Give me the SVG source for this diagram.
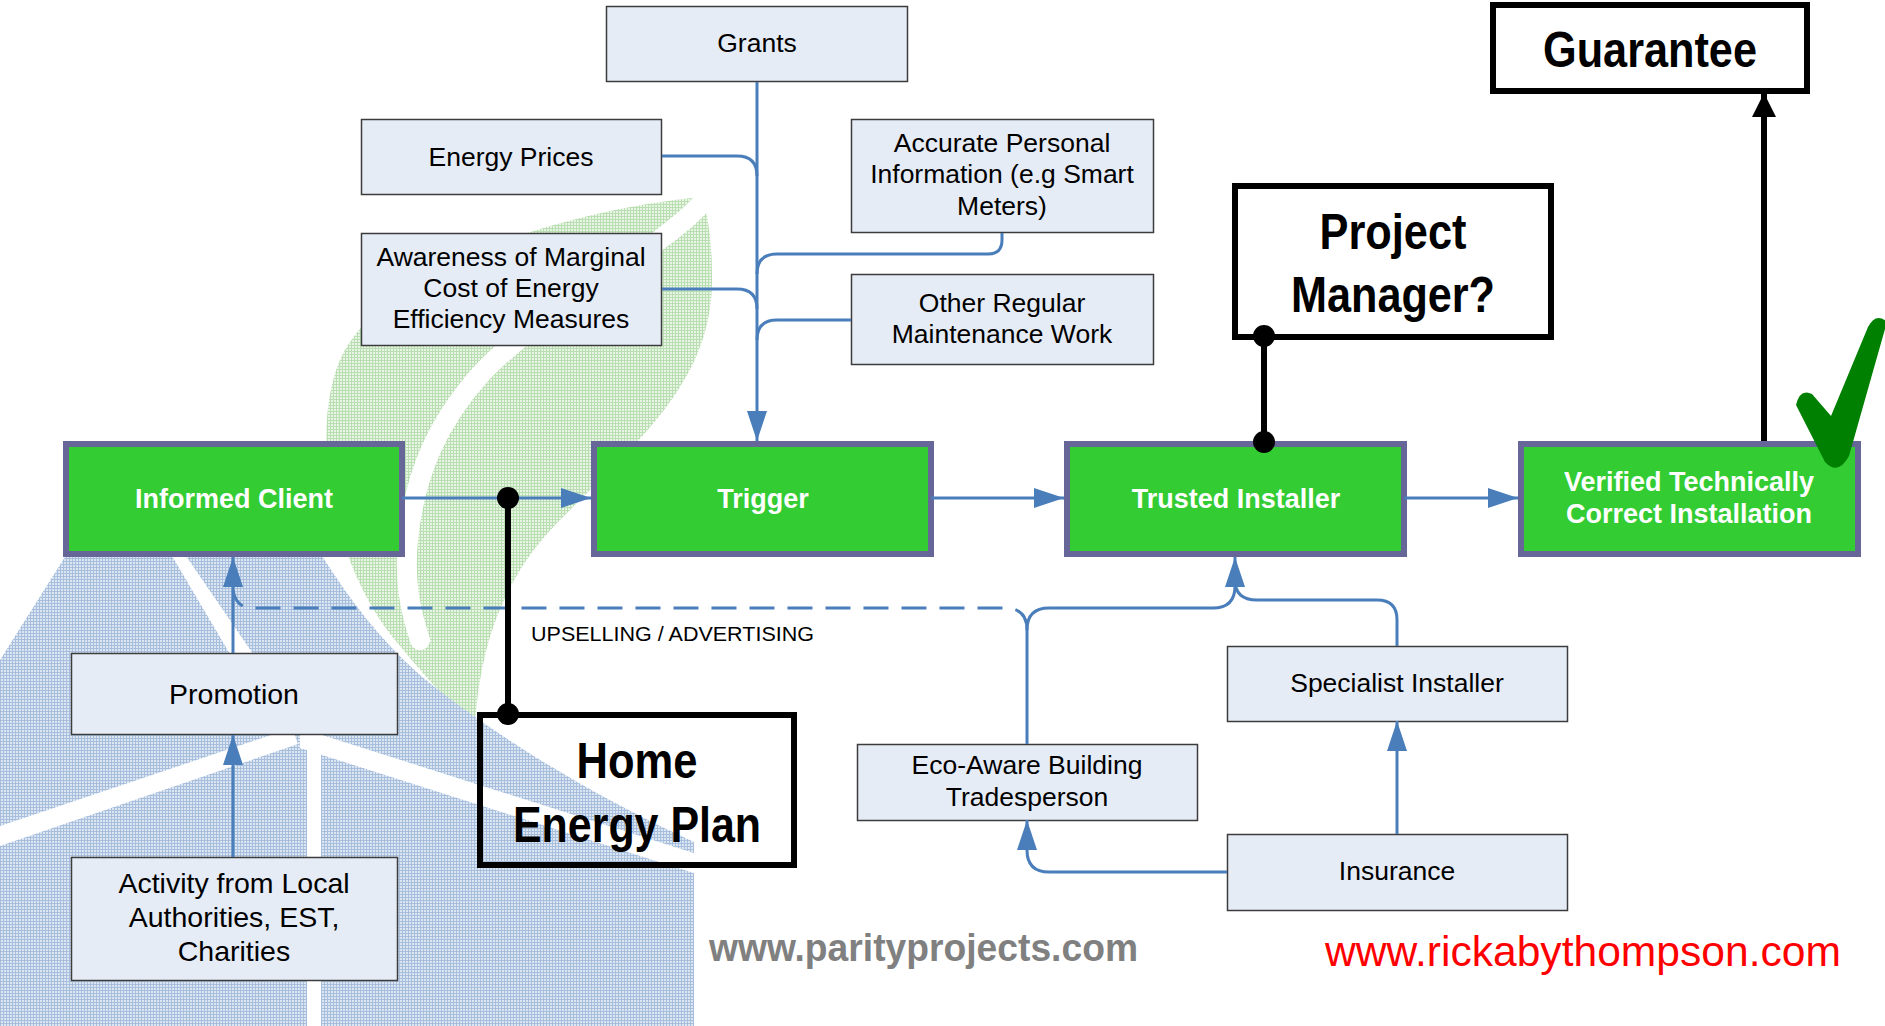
<svg xmlns="http://www.w3.org/2000/svg" width="1885" height="1026" viewBox="0 0 1885 1026">
  <style>
    .box { fill: #e6ecf6; stroke: #3c3c3c; stroke-width: 1.5; }
    .stage { fill: #33cc33; stroke: #666699; stroke-width: 6; }
    .note { fill: none; stroke: #000; stroke-width: 6; }
    .txt { font-family: "Liberation Sans", Arial, sans-serif; font-size: 26.5px; fill: #000; text-anchor: middle; }
    .big { font-size: 28.5px; }
    .stxt { font-family: "Liberation Sans", Arial, sans-serif; font-size: 27px; font-weight: bold; fill: #fff; text-anchor: middle; }
    .htxt { font-family: "Liberation Sans", Arial, sans-serif; font-size: 50px; font-weight: bold; fill: #000; text-anchor: middle; }
    .flow { fill: none; stroke: #4a7ebb; stroke-width: 3; }
    .link { fill: none; stroke: #000; stroke-width: 6; }
  </style>
  <defs>
    <pattern id="hatchBlue" width="3" height="3" patternUnits="userSpaceOnUse">
      <rect width="3" height="3" fill="#dce6f2"/>
      <rect width="3" height="1" fill="#a7bfdd"/>
      <rect width="1" height="3" fill="#a7bfdd"/>
    </pattern>
    <pattern id="hatchGreen" width="3" height="3" patternUnits="userSpaceOnUse">
      <rect width="3" height="3" fill="#e8f4e4"/>
      <rect width="3" height="1" fill="#b9deb1"/>
      <rect width="1" height="3" fill="#b9deb1"/>
    </pattern>
    <marker id="arrowBlue" markerUnits="userSpaceOnUse" markerWidth="30" markerHeight="20" refX="30" refY="10" orient="auto">
      <path d="M0,0 L30,10 L0,20 Z" fill="#4a7ebb"/>
    </marker>
    <marker id="arrowBlack" markerUnits="userSpaceOnUse" markerWidth="24" markerHeight="24" refX="24" refY="12" orient="auto">
      <path d="M0,0 L24,12 L0,24 Z" fill="#000"/>
    </marker>
  </defs>

  <rect width="1885" height="1026" fill="#fff"/>

  <!-- faded logo in the background: leaf and house with turbine -->
  <g id="watermark">
    <path d="M702 197 C560 210 380 270 340 360 C310 430 330 560 395 640 C420 670 445 700 475 725 C480 650 500 580 560 520 C640 440 712 380 712 280 C712 240 708 215 702 197 Z" fill="url(#hatchGreen)"/>
    <path d="M700 205 C660 250 540 310 480 375 C440 420 415 470 408 540 C404 580 410 610 420 640" fill="none" stroke="#fff" stroke-width="20" stroke-linecap="round"/>
    <path d="M0 660 L138 441 L250 441 L322 556 C350 600 380 640 420 675 C480 725 580 790 694 842 L694 1026 L0 1026 Z" fill="url(#hatchBlue)"/>
    <polygon points="172,556 186,556 305,730 275,730" fill="#fff"/>
    <polygon points="0,826 292,728 298,744 0,846" fill="#fff"/>
    <polygon points="300,728 700,855 700,875 300,748" fill="#fff"/>
    <rect x="307" y="738" width="14" height="288" fill="#fff"/>
  </g>

  <g id="node-grants">
    <rect class="box" x="606.5" y="6.5" width="301" height="75"/>
    <text class="txt" x="757" y="52">Grants</text>
  </g>
  <g id="node-energy-prices">
    <rect class="box" x="361.5" y="119.5" width="300" height="75"/>
    <text class="txt" x="511" y="166">Energy Prices</text>
  </g>
  <g id="node-awareness">
    <rect class="box" x="361.5" y="233.5" width="300" height="112"/>
    <text class="txt" x="511" y="266">Awareness of Marginal</text>
    <text class="txt" x="511" y="297">Cost of Energy</text>
    <text class="txt" x="511" y="328">Efficiency Measures</text>
  </g>
  <g id="node-accurate-info">
    <rect class="box" x="851.5" y="119.5" width="302" height="113"/>
    <text class="txt" x="1002" y="152">Accurate Personal</text>
    <text class="txt" x="1002" y="183">Information (e.g Smart</text>
    <text class="txt" x="1002" y="215">Meters)</text>
  </g>
  <g id="node-maintenance">
    <rect class="box" x="851.5" y="274.5" width="302" height="90"/>
    <text class="txt" x="1002" y="312">Other Regular</text>
    <text class="txt" x="1002" y="343">Maintenance Work</text>
  </g>
  <g id="node-project-manager">
    <rect x="1235" y="186" width="316" height="151" fill="#fff" stroke="#000" stroke-width="6"/>
    <text class="htxt" x="1393" y="249" textLength="147" lengthAdjust="spacingAndGlyphs">Project</text>
    <text class="htxt" x="1393" y="312" textLength="204" lengthAdjust="spacingAndGlyphs">Manager?</text>
  </g>
  <g id="node-guarantee">
    <rect x="1493" y="5" width="314" height="86" fill="#fff" stroke="#000" stroke-width="6"/>
    <text class="htxt" x="1650" y="67" textLength="214" lengthAdjust="spacingAndGlyphs">Guarantee</text>
  </g>
  <g id="node-informed-client">
    <rect class="stage" x="66" y="444" width="336" height="110"/>
    <text class="stxt" x="234" y="508">Informed Client</text>
  </g>
  <g id="node-trigger">
    <rect class="stage" x="594" y="444" width="337" height="110"/>
    <text class="stxt" x="763" y="508">Trigger</text>
  </g>
  <g id="node-trusted-installer">
    <rect class="stage" x="1067" y="444" width="337" height="110"/>
    <text class="stxt" x="1236" y="508">Trusted Installer</text>
  </g>
  <g id="node-verified">
    <rect class="stage" x="1521" y="444" width="337" height="110"/>
    <text class="stxt" x="1689" y="491">Verified Technically</text>
    <text class="stxt" x="1689" y="523">Correct Installation</text>
  </g>
  <g id="node-promotion">
    <rect class="box" x="71.5" y="653.5" width="326" height="81"/>
    <text class="txt big" x="234" y="704">Promotion</text>
  </g>
  <g id="node-activity">
    <rect class="box" x="71.5" y="857.5" width="326" height="123"/>
    <text class="txt big" x="234" y="893">Activity from Local</text>
    <text class="txt big" x="234" y="927">Authorities, EST,</text>
    <text class="txt big" x="234" y="961">Charities</text>
  </g>
  <g id="node-home-energy-plan">
    <rect class="note" x="480" y="715" width="314" height="150"/>
    <text class="htxt" x="637" y="778" textLength="121" lengthAdjust="spacingAndGlyphs">Home</text>
    <text class="htxt" x="637" y="842" textLength="248" lengthAdjust="spacingAndGlyphs">Energy Plan</text>
  </g>
  <g id="node-specialist">
    <rect class="box" x="1227.5" y="646.5" width="340" height="75"/>
    <text class="txt" x="1397" y="692">Specialist Installer</text>
  </g>
  <g id="node-eco-aware">
    <rect class="box" x="857.5" y="744.5" width="340" height="76"/>
    <text class="txt" x="1027" y="774">Eco-Aware Building</text>
    <text class="txt" x="1027" y="806">Tradesperson</text>
  </g>
  <g id="node-insurance">
    <rect class="box" x="1227.5" y="834.5" width="340" height="76"/>
    <text class="txt" x="1397" y="880">Insurance</text>
  </g>

  <g id="connectors">
    <!-- influences feeding the trigger -->
    <path class="flow" d="M757 82 V441" marker-end="url(#arrowBlue)"/>
    <path class="flow" d="M662 156 H737 Q757 156 757 176"/>
    <path class="flow" d="M662 289 H737 Q757 289 757 309"/>
    <path class="flow" d="M1002 233 V240 Q1002 254 988 254 H777 Q757 254 757 274"/>
    <path class="flow" d="M851 320 H777 Q757 320 757 340"/>
    <!-- main chain -->
    <path class="flow" d="M402 498 H591" marker-end="url(#arrowBlue)"/>
    <path class="flow" d="M931 498 H1064" marker-end="url(#arrowBlue)"/>
    <path class="flow" d="M1404 498 H1518" marker-end="url(#arrowBlue)"/>
    <!-- client side -->
    <path class="flow" d="M233 653 V557" marker-end="url(#arrowBlue)"/>
    <path class="flow" d="M233 857 V735" marker-end="url(#arrowBlue)"/>
    <path class="flow" d="M1027 630 Q1027 608 1005 608 H252 Q236 608 233 590" stroke-dasharray="25 13"/>
    <!-- installer side -->
    <path class="flow" d="M1027 744 V630 Q1027 608 1049 608 H1213 Q1235 608 1235 586 V557" marker-end="url(#arrowBlue)"/>
    <path class="flow" d="M1397 646 V620 Q1397 600 1377 600 H1257 Q1235 600 1235 580"/>
    <path class="flow" d="M1227 872 H1049 Q1027 872 1027 850 V820" marker-end="url(#arrowBlue)"/>
    <path class="flow" d="M1397 834 V721" marker-end="url(#arrowBlue)"/>
    <!-- black links -->
    <path class="link" d="M508 498 V714"/>
    <circle cx="508" cy="498" r="11"/>
    <circle cx="508" cy="714" r="11"/>
    <path class="link" d="M1264 336 V442"/>
    <circle cx="1264" cy="336" r="11"/>
    <circle cx="1264" cy="442" r="11"/>
    <path class="link" d="M1764 441 V93" marker-end="url(#arrowBlack)"/>
  </g>

  <text x="531" y="641" font-family="Liberation Sans, Arial, sans-serif" font-size="21" fill="#000" textLength="283" lengthAdjust="spacingAndGlyphs">UPSELLING / ADVERTISING</text>

  <path id="tick" d="M1796 405 Q1800 388 1812 394 L1831 416 L1868 327 Q1876 312 1887 322 L1849 456 Q1838 476 1825 462 Z" fill="#008000"/>

  <text x="709" y="961" font-family="Liberation Sans, Arial, sans-serif" font-size="38" font-weight="bold" fill="#808080" textLength="429" lengthAdjust="spacingAndGlyphs">www.parityprojects.com</text>
  <text x="1325" y="966" font-family="Liberation Sans, Arial, sans-serif" font-size="42" fill="#ff0000" textLength="516" lengthAdjust="spacingAndGlyphs">www.rickabythompson.com</text>
</svg>
